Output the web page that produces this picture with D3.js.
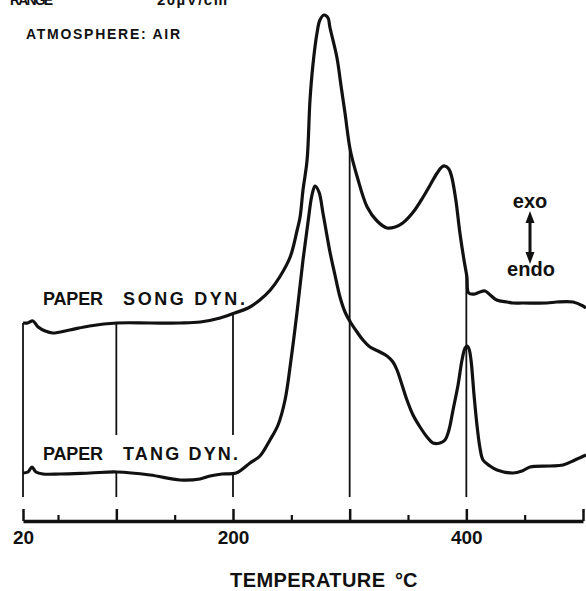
<!DOCTYPE html>
<html>
<head>
<meta charset="utf-8">
<script src="https://cdn.jsdelivr.net/npm/d3@7"></script>
<style>
  body { margin: 0; background: #fff; }
  text { font-family: "Liberation Sans", Arial, sans-serif; font-weight: bold; fill: #111; }
</style>
</head>
<body>
<svg id="canvas"></svg>
<script>
var w = 586;
var h = 591;

// DTA trace, paper "song", [temperature degC, signal (arb. units)]
var songDyn = [[20,88.5],[24,88.5],[28.5,89.5],[33,86.5],[39,84.5],[45.5,83.5],[60,85],[77,87],
  [100.5,88.5],[129,88.5],[155,88.5],[172,89],[189,91],[201.5,93.5],[213,96],[223,100],[232,105],
  [240,111.5],[249,121.5],[255,135],[257.5,141.5],[260,155],[263.5,170],[266,200],[268.5,217.5],
  [272,233.5],[274.5,240],[278,242.5],[281.5,241],[283,236.5],[289,221.5],[292.5,207.5],[296,193.5],
  [300.5,175],[306.5,161.5],[315,146.5],[323.5,139.5],[332,136],[339,136.5],[345.5,138.5],[354.5,144],
  [363,151.5],[369,157.5],[375,163.5],[379,166.5],[381.5,167],[385,165.5],[387.5,161.5],[391,150],
  [394.5,133.5],[398,120],[400.5,111.5],[402,103.5],[407.5,103],[411.5,104],[416,104.5],[420.5,102.5],
  [426,100],[435,99],[440,98.5],[448.5,98.5],[469,98.5],[477.5,99],[491.5,99],[500,97],[502.5,96]];

// DTA trace, paper "tang"
var tangDyn = [[20,13.5],[24.3,14],[27.7,16.5],[31.1,14],[37.1,13],[51.7,13],[77.4,13.5],[100.6,14],
  [128.9,12.5],[154.6,10],[171.7,10.5],[180.3,12],[190.6,13],[202.6,13.5],[214.6,18.5],[223.1,22],
  [231.7,30],[238.6,37.5],[244.6,50],[249.7,70],[254.9,94],[260,120],[264.3,139],[267.7,152.5],
  [270.3,157],[273.7,154],[277.1,143.5],[280.6,132],[283.1,124],[287.4,112.5],[291.7,101.5],[296,94],
  [301.1,88.5],[306.3,84],[311.4,80],[317.4,76.5],[326,74],[332,72],[337.1,69],[340.6,65],[344.9,57.5],
  [349.1,50],[354.3,42.5],[360.3,36.5],[366.3,31.5],[371.4,28.5],[377.4,28.5],[381.7,30],[385.1,35],
  [388.6,45],[392.9,57.5],[396.3,70],[398.9,76],[400.6,77],[402.3,75.5],[404,70],[406.6,52.5],
  [409.1,37.5],[411.7,26],[414.3,20],[420.3,17],[426.3,15],[440,13.5],[447.7,14.5],[454.6,16.5],
  [471.7,17],[482.9,17.5],[493.1,20],[502.6,22.5]];

// temperature marks drawn down from each trace
var songMarkTemps = [20, 100, 200, 300, 400];
var songMarkEnds = [1.5, 32.5, 32.5, 1.5, 1.5];
var tangMarkTemps = [100, 200];
var tangMarkEnd = 1.5;

var majorTicks = [20, 100, 200, 300, 400, 500];
var minorTicks = [50, 150, 250, 350, 450];
var tickLabels = ["20", "", "200", "", "400", ""];

function valueAt(series, t) {
  var i = d3.bisector(d => d[0]).left(series, t);
  if (i <= 0) return series[0][1];
  var a = series[i - 1], b = series[i];
  return a[1] + (b[1] - a[1]) * (t - a[0]) / (b[0] - a[0]);
}

var svg = d3.select("#canvas")
  .attr("width", w)
  .attr("height", h)
  .attr("viewBox", [0, 0, w, h]);

var x = d3.scaleLinear().domain([20, 500]).range([23, 583]);
var y = d3.scaleLinear().domain([0, 240]).range([500, 20]);

var line = d3.line()
  .x(d => x(d[0]))
  .y(d => y(d[1]))
  .curve(d3.curveCatmullRom.alpha(0.5));

// vertical temperature marks
svg.append("g")
  .selectAll("line")
  .data(songMarkTemps)
  .join("line")
  .attr("x1", d => x(d)).attr("x2", d => x(d))
  .attr("y1", d => y(valueAt(songDyn, d)))
  .attr("y2", (d, i) => y(songMarkEnds[i]))
  .style("stroke", "#111")
  .style("stroke-width", 1.8);

svg.append("g")
  .selectAll("line")
  .data(tangMarkTemps)
  .join("line")
  .attr("x1", d => x(d)).attr("x2", d => x(d))
  .attr("y1", d => y(valueAt(tangDyn, d)))
  .attr("y2", y(tangMarkEnd))
  .style("stroke", "#111")
  .style("stroke-width", 1.8);

// traces
[songDyn, tangDyn].forEach(function (s) {
  svg.append("path")
    .datum(s)
    .attr("d", line)
    .style("fill", "none")
    .style("stroke", "#111")
    .style("stroke-width", 3.2)
    .style("stroke-linejoin", "round");
});

// temperature axis, ticks pointing up
var axisY = 521;
var major = svg.append("g")
  .attr("transform", "translate(0," + axisY + ")")
  .call(d3.axisBottom(x).tickValues(majorTicks)
    .tickFormat((d, i) => tickLabels[i])
    .tickSizeInner(-12).tickSizeOuter(0).tickPadding(10));
major.select(".domain").style("stroke", "#111").style("stroke-width", 3.5);
major.selectAll(".tick line").style("stroke", "#111").style("stroke-width", 2.5);
major.selectAll(".tick text")
  .style("font-family", "Liberation Sans, Arial, sans-serif")
  .style("font-weight", "bold")
  .style("font-size", "19px")
  .style("fill", "#111");

var minor = svg.append("g")
  .attr("transform", "translate(0," + axisY + ")")
  .call(d3.axisBottom(x).tickValues(minorTicks).tickFormat("")
    .tickSizeInner(-6).tickSizeOuter(0));
minor.select(".domain").remove();
minor.selectAll(".tick line").style("stroke", "#111").style("stroke-width", 2.2);

svg.append("text").attr("x", 230).attr("y", 587)
  .attr("textLength", 155).attr("lengthAdjust", "spacing")
  .style("font-size", "20px").text("TEMPERATURE");
svg.append("text").attr("x", 395).attr("y", 587)
  .style("font-size", "20px").text("°C");

// header
svg.append("text").attr("x", 10).attr("y", 5)
  .attr("textLength", 43).style("font-size", "14px").text("RANGE");
svg.append("text").attr("x", 157).attr("y", 5)
  .attr("textLength", 70).style("font-size", "15px").text("20µV/cm");
svg.append("text").attr("x", 26).attr("y", 39)
  .attr("textLength", 154).attr("lengthAdjust", "spacing")
  .style("font-size", "14px").text("ATMOSPHERE: AIR");

// curve labels
var labels = [
  {t: "PAPER", x: 43, y: 305, len: 60},
  {t: "SONG DYN.", x: 123, y: 305, len: 122},
  {t: "PAPER", x: 43, y: 460, len: 60},
  {t: "TANG DYN.", x: 123, y: 460, len: 115}
];
svg.append("g").selectAll("text")
  .data(labels)
  .join("text")
  .attr("x", d => d.x).attr("y", d => d.y)
  .attr("textLength", d => d.len).attr("lengthAdjust", "spacing")
  .style("font-size", "18px")
  .text(d => d.t);

// exo / endo arrow
svg.append("text").attr("x", 530).attr("y", 208)
  .attr("text-anchor", "middle").style("font-size", "20px").text("exo");
svg.append("text").attr("x", 531).attr("y", 276)
  .attr("text-anchor", "middle").style("font-size", "20px").text("endo");
svg.append("line")
  .attr("x1", 530).attr("x2", 530).attr("y1", 218).attr("y2", 257)
  .style("stroke", "#111").style("stroke-width", 3);
svg.append("path").attr("d", "M530,211 L525.5,223 L534.5,223 Z").style("fill", "#111");
svg.append("path").attr("d", "M530,264 L525.5,252 L534.5,252 Z").style("fill", "#111");
</script>
</body>
</html>
